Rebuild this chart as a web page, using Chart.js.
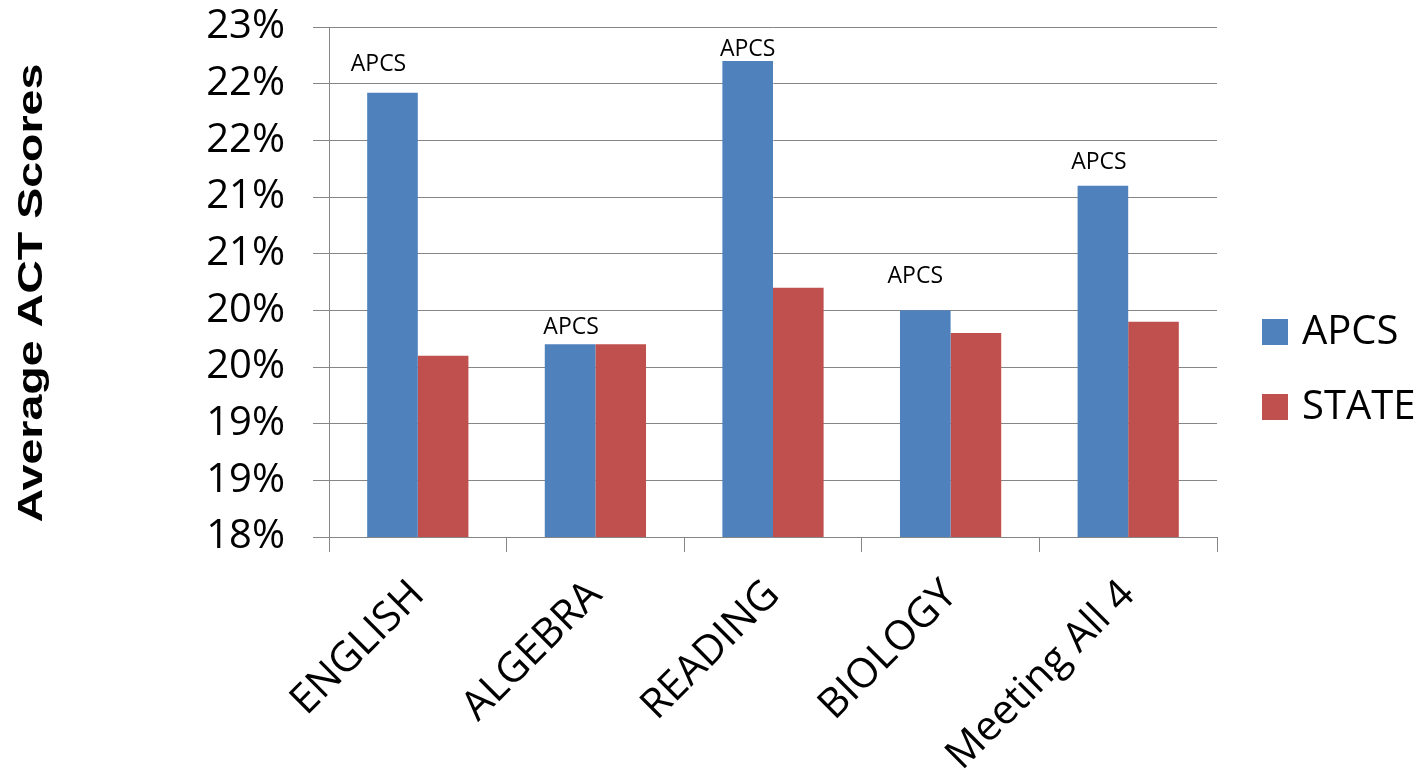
<!DOCTYPE html>
<html>
<head>
<meta charset="utf-8">
<script src="https://cdn.jsdelivr.net/npm/chart.js@4"></script>
<style>
html,body{margin:0;padding:0;background:#fff;}
#wrap{width:1422px;height:780px;position:relative;}
</style>
</head>
<body>
<div id="wrap"><canvas id="c" width="1422" height="780"></canvas></div>
<script>
const categories = ['ENGLISH', 'ALGEBRA', 'READING', 'BIOLOGY', 'Meeting All 4'];
const apcsValues = [21.92, 19.7, 22.2, 20.0, 21.1];
const stateValues = [19.6, 19.7, 20.2, 19.8, 19.9];
const yTickLabels = ['18%', '19%', '19%', '20%', '20%', '21%', '21%', '22%', '22%', '23%'];
const yTitle = 'Average ACT Scores';
const barLabel = 'APCS';

const labelPlugin = {
  id: 'apcsLabels',
  afterDatasetsDraw(chart, args, opts) {
    const ctx = chart.ctx;
    const meta = chart.getDatasetMeta(0);
    ctx.save();
    ctx.font = '23px "Open Sans"';
    ctx.fillStyle = '#000';
    ctx.textAlign = 'center';
    ctx.textBaseline = 'middle';
    meta.data.forEach((bar, i) => {
      const o = opts.offsets[i];
      ctx.fillText(barLabel, bar.x + o[0], bar.y + o[1]);
    });
    ctx.restore();
  }
};

const legendPlugin = {
  id: 'sideLegend',
  afterDraw(chart, args, opts) {
    const ctx = chart.ctx;
    ctx.save();
    ctx.font = opts.fontSize + 'px "Open Sans"';
    ctx.textBaseline = 'middle';
    ctx.textAlign = 'left';
    chart.data.datasets.forEach((ds, i) => {
      const cy = opts.y + i * opts.spacing;
      ctx.fillStyle = ds.backgroundColor;
      ctx.fillRect(opts.x, cy - opts.box / 2, opts.box, opts.box);
      ctx.fillStyle = '#000';
      ctx.fillText(ds.label, opts.x + opts.box + 14, cy + 1);
    });
    ctx.restore();
  }
};

const titlePlugin = {
  id: 'yTitle',
  afterDraw(chart, args, opts) {
    const ctx = chart.ctx;
    ctx.save();
    ctx.translate(opts.x, opts.y);
    ctx.rotate(-Math.PI / 2);
    ctx.scale(opts.stretch, 1);
    ctx.font = 'bold ' + opts.fontSize + 'px "Liberation Sans"';
    ctx.fillStyle = '#000';
    ctx.textAlign = 'center';
    ctx.textBaseline = 'alphabetic';
    ctx.fillText(yTitle, 0, 0);
    ctx.restore();
  }
};

new Chart(document.getElementById('c'), {
  type: 'bar',
  data: {
    labels: categories,
    datasets: [
      { label: 'APCS', data: apcsValues, backgroundColor: '#4F81BD', borderWidth: 0 },
      { label: 'STATE', data: stateValues, backgroundColor: '#C0504D', borderWidth: 0 }
    ]
  },
  options: {
    responsive: false,
    animation: false,
    devicePixelRatio: 1,
    layout: { padding: { left: 0, top: 27, right: 205, bottom: 0 } },
    datasets: { bar: { barPercentage: 1, categoryPercentage: 0.57 } },
    plugins: {
      tooltip: { enabled: false },
      legend: { display: false },
      apcsLabels: { offsets: [[-14, -28], [1, -17], [0, -12], [-10, -34], [-4, -23]] },
      sideLegend: { x: 1262, y: 332, spacing: 75, box: 26, fontSize: 40 },
      yTitle: { x: 42, y: 293, fontSize: 35, stretch: 1.33 }
    },
    scales: {
      x: {
        afterFit: (s) => { s.height = 243; s.paddingTop = 0; s.paddingBottom = 0; },
        grid: { display: true, drawOnChartArea: false, drawTicks: true, tickLength: 15, color: '#868686', offset: true },
        border: { display: true, color: '#868686' },
        ticks: {
          color: '#000', maxRotation: 45, minRotation: 45, padding: 19,
          font: { family: '"Open Sans"', size: 41 }
        }
      },
      y: {
        min: 18, max: 22.5,
        afterFit: (s) => { s.width = 329; s.paddingTop = 0; s.paddingBottom = 0; },
        grid: { color: '#868686', tickLength: 16 },
        border: { display: true, color: '#868686' },
        ticks: {
          stepSize: 0.5, color: '#000', padding: 28,
          font: { family: '"Open Sans"', size: 40 },
          callback: (v, i) => yTickLabels[i]
        },
        title: { display: false }
      }
    }
  },
  plugins: [labelPlugin, legendPlugin, titlePlugin]
});
</script>
</body>
</html>
